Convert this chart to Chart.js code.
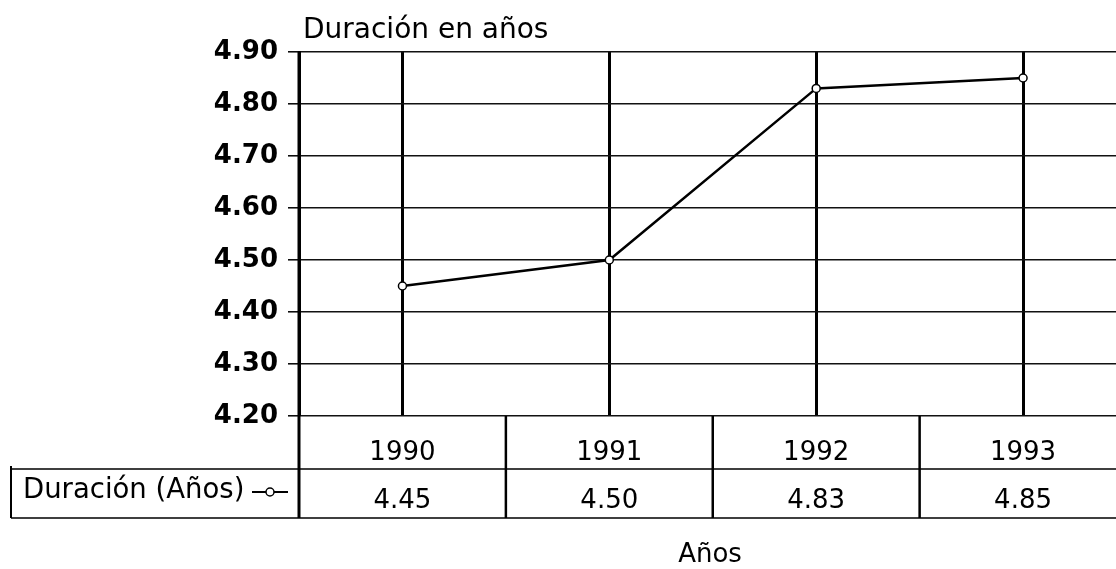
<!DOCTYPE html>
<html>
<head>
<meta charset="utf-8">
<script src="https://cdn.jsdelivr.net/npm/chart.js@4/dist/chart.umd.min.js"></script>
<style>
  html, body { margin: 0; padding: 0; background: #fff; overflow: hidden; }
  #c { display: block; }
</style>
</head>
<body>
<!-- the plot runs a little past the right edge of the window, as in the scan -->
<canvas id="c" width="1132" height="569" style="width:1132px;height:569px"></canvas>
<script>
// data
var years = ["1990", "1991", "1992", "1993"];
var duracion = [4.45, 4.50, 4.83, 4.85];
var yTickValues = [4.20, 4.30, 4.40, 4.50, 4.60, 4.70, 4.80, 4.90];
var chartTitle = "Duración en años";
var xTitle = "Años";
var seriesName = "Duración (Años)";

var FONT = '"DejaVu Sans", "Liberation Sans", sans-serif';

// draws the title, the data table under the plot and the x axis title
var tablePlugin = {
	id: "tablePlugin",
	afterDraw: function( chart ) {
		var ctx = chart.ctx;
		var xs = chart.scales.x;
		var area = chart.chartArea;
		var catW = xs.getPixelForValue( 1 ) - xs.getPixelForValue( 0 );
		var row1Top = area.bottom, row2Top = area.bottom + 53, row2Bottom = area.bottom + 102;

		ctx.save();
		ctx.fillStyle = "#000";
		ctx.strokeStyle = "#000";

		// title above the plot
		ctx.font = "28px " + FONT;
		ctx.textAlign = "left";
		ctx.textBaseline = "alphabetic";
		ctx.fillText( chartTitle, area.left + 4, 38 );

		// axis line down through the table
		ctx.lineWidth = 3;
		ctx.beginPath();
		ctx.moveTo( area.left, area.top );
		ctx.lineTo( area.left, row2Bottom );
		ctx.stroke();

		// table horizontal lines
		ctx.lineWidth = 1.6;
		ctx.beginPath();
		ctx.moveTo( 11, row2Top );
		ctx.lineTo( chart.width, row2Top );
		ctx.moveTo( 11, row2Bottom );
		ctx.lineTo( chart.width, row2Bottom );
		ctx.stroke();

		// left border of the series label cell
		ctx.lineWidth = 2;
		ctx.beginPath();
		ctx.moveTo( 11, row2Top - 3 );
		ctx.lineTo( 11, row2Bottom );
		ctx.stroke();

		// dividers between categories
		ctx.lineWidth = 2.5;
		for ( var i = 1; i < years.length; i++ ) {
			var bx = xs.getPixelForValue( i ) - catW / 2;
			ctx.beginPath();
			ctx.moveTo( bx, row1Top );
			ctx.lineTo( bx, row2Bottom );
			ctx.stroke();
		}

		// category and value cells
		ctx.font = "26px " + FONT;
		ctx.textAlign = "center";
		for ( var j = 0; j < years.length; j++ ) {
			var cx = xs.getPixelForValue( j );
			ctx.fillText( years[j], cx, row1Top + 44 );
			ctx.fillText( duracion[j].toFixed( 2 ), cx, row2Top + 39 );
		}

		// series label with its marker
		ctx.font = "27.5px " + FONT;
		ctx.textAlign = "left";
		ctx.fillText( seriesName, 23, row2Top + 29 );
		var my = row2Top + 23;
		ctx.lineWidth = 2;
		ctx.beginPath();
		ctx.moveTo( 252, my );
		ctx.lineTo( 288, my );
		ctx.stroke();
		ctx.beginPath();
		ctx.arc( 270, my, 4, 0, Math.PI * 2 );
		ctx.fillStyle = "#fff";
		ctx.fill();
		ctx.lineWidth = 1.5;
		ctx.stroke();

		// x axis title
		ctx.fillStyle = "#000";
		ctx.font = "26px " + FONT;
		ctx.textAlign = "center";
		ctx.fillText( xTitle, 710, 562 );

		ctx.restore();
	}
};

new Chart( document.getElementById( "c" ), {
	type: "line",
	data: {
		labels: years,
		datasets: [ {
			label: seriesName,
			data: duracion,
			borderColor: "#000",
			borderWidth: 2.5,
			backgroundColor: "#fff",
			pointRadius: 4,
			pointBorderWidth: 1.5,
			pointBorderColor: "#000",
			pointBackgroundColor: "#fff",
			tension: 0
		} ]
	},
	options: {
		responsive: false,
		animation: false,
		events: [],
		layout: { padding: { top: 52, right: 0, bottom: 0, left: 0 } },
		plugins: {
			legend: { display: false },
			title: { display: false },
			tooltip: { enabled: false }
		},
		scales: {
			x: {
				offset: true,
				grid: { offset: false, color: "#000", lineWidth: 3, drawTicks: false },
				border: { display: false },
				ticks: { display: false },
				afterFit: function( s ) { s.height = 153; }
			},
			y: {
				min: 4.2,
				max: 4.9,
				afterBuildTicks: function( s ) {
					s.ticks = yTickValues.map( function( v ) { return { value: v }; } );
				},
				ticks: {
					color: "#000",
					padding: 10,
					font: { family: FONT, size: 26, weight: "bold" },
					callback: function( v ) { return Number( v ).toFixed( 2 ); }
				},
				grid: { color: "#111", lineWidth: 1.6, tickLength: 11, tickColor: "#000", tickWidth: 1.5 },
				border: { display: true, color: "#000", width: 3 },
				afterFit: function( s ) { s.width = 299; }
			}
		}
	},
	plugins: [ tablePlugin ]
} );
</script>
</body>
</html>
